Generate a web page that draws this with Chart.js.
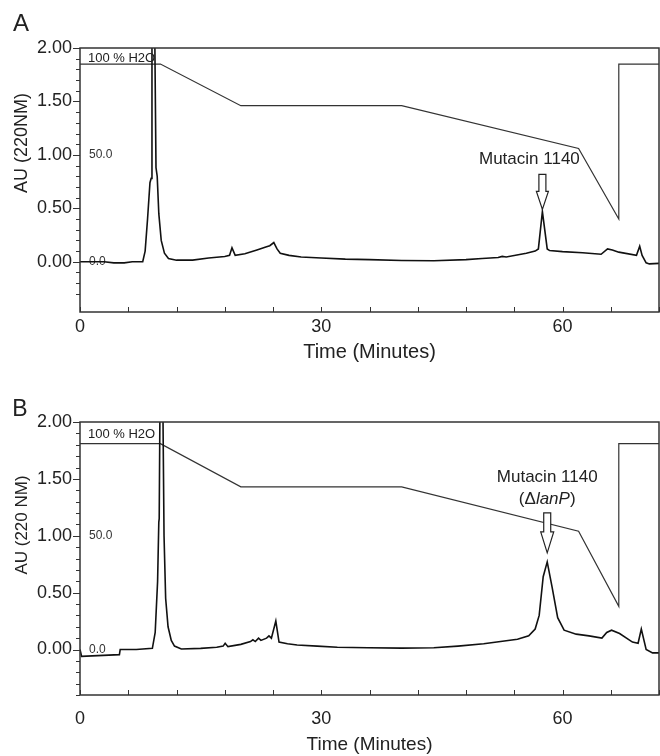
<!DOCTYPE html>
<html>
<head>
<meta charset="utf-8">
<script src="https://cdn.jsdelivr.net/npm/chart.js@4.4.1/dist/chart.umd.min.js"></script>
<style>
  html, body { margin: 0; padding: 0; background: #fff; }
  #wrapA { position: absolute; left: 0; top: 0; width: 660px; height: 370px; }
  #wrapB { position: absolute; left: 0; top: 370px; width: 660px; height: 386px; }
</style>
</head>
<body>
<div id="wrapA"><canvas id="chartA"></canvas></div>
<div id="wrapB"><canvas id="chartB"></canvas></div>
<script>
const FONT = '"Liberation Sans", Arial, sans-serif';

// panel A - absorbance trace (minutes, AU)
const timeA = [0, 3, 4.2, 5.5, 6.5, 7.8, 8.1, 8.4, 8.7, 8.85, 8.95, 9.3, 9.45, 9.6, 9.8, 10.1, 10.5, 11, 12, 14,
  16, 18, 18.6, 18.9, 19.3, 20.5, 22, 23.2, 23.6, 24.1, 24.5, 24.9, 26, 27.5, 30, 33, 36, 40, 44, 48,
  50, 52, 52.5, 53, 55.5, 56.6, 57.0, 57.5, 58.1, 58.4, 60, 62.5, 64.8, 65.6, 66.2, 67, 69.2, 69.6, 69.9, 70.4, 70.8, 72];
const auA = [0, 0, -0.01, -0.01, 0, 0, 0.1, 0.4, 0.74, 0.78, 2.1, 2.1, 0.88, 0.8, 0.45, 0.2, 0.08, 0.03, 0.015, 0.015,
  0.035, 0.05, 0.06, 0.13, 0.06, 0.075, 0.11, 0.14, 0.15, 0.18, 0.12, 0.08, 0.06, 0.045, 0.035, 0.025, 0.02, 0.012, 0.01, 0.02,
  0.03, 0.04, 0.05, 0.045, 0.08, 0.1, 0.12, 0.47, 0.12, 0.105, 0.095, 0.085, 0.07, 0.12, 0.11, 0.09, 0.06, 0.145, 0.06, -0.01, -0.02, -0.015];
// panel A - solvent gradient (% H2O)
const gradTimeA = [0, 10, 20, 40, 62, 67, 67, 72];
const gradA = [92.5, 92.5, 73, 73, 53, 20, 92.5, 92.5];

// panel B - absorbance trace (minutes, AU)
const timeB = [0, 0.2, 4.9, 5.0, 7, 9.0, 9.35, 9.65, 9.8, 9.85, 9.95, 10.3, 10.45, 10.65, 10.95, 11.35, 11.75, 12.6, 15, 17,
  17.8, 18.05, 18.4, 20, 21.2, 21.5, 21.8, 22.2, 22.5, 23.2, 23.5, 23.8, 24.35, 24.75, 25.8, 27, 29.5, 32, 35.8, 40,
  44, 47, 50.2, 52.3, 54.4, 55.8, 56.6, 57.1, 57.6, 58.1, 58.7, 59.4, 60.2, 61.7, 63.3, 64.9, 65.5, 66.1, 67.1, 68.7,
  69.4, 69.8, 70.4, 71.2, 72];
const auB = [0, -0.06, -0.045, 0, 0, 0.01, 0.15, 0.6, 1.12, 1.15, 2.2, 2.2, 1.0, 0.45, 0.2, 0.08, 0.03, 0.005, 0.01, 0.02,
  0.03, 0.055, 0.025, 0.045, 0.07, 0.085, 0.07, 0.1, 0.08, 0.1, 0.12, 0.1, 0.25, 0.065, 0.05, 0.04, 0.03, 0.02, 0.015, 0.012,
  0.015, 0.03, 0.05, 0.07, 0.09, 0.12, 0.18, 0.3, 0.64, 0.77, 0.55, 0.28, 0.17, 0.135, 0.12, 0.1, 0.15, 0.17, 0.14, 0.065,
  0.055, 0.18, 0, -0.03, -0.03];
// panel B - solvent gradient (% H2O)
const gradTimeB = [0, 10, 20, 40, 62, 67, 67, 72];
const gradB = [90.5, 90.5, 71.5, 71.5, 52, 19, 90.5, 90.5];

const xTickStep = 6;
const xLabelValues = [0, 30, 60];
const pctLabelValues = [0, 50];

const toPoints = (xs, ys) => xs.map((t, i) => ({ x: t, y: ys[i] }));
const isStep = (v, s) => Math.abs(v / s - Math.round(v / s)) < 1e-6;

// axis box and tick marks (y ticks outward, x ticks inward)
const framePlugin = {
  id: 'frame',
  afterDraw(chart) {
    const { ctx, chartArea: a, scales: { x, y } } = chart;
    ctx.save();
    ctx.strokeStyle = '#333';
    ctx.lineWidth = 1;
    y.ticks.forEach(t => {
      if (!isStep(t.value, 0.1)) return;
      const major = isStep(t.value, 0.5);
      const py = Math.round(y.getPixelForValue(t.value)) + 0.5;
      ctx.beginPath();
      ctx.moveTo(a.left - (major ? 7 : 4), py);
      ctx.lineTo(a.left, py);
      ctx.stroke();
    });
    x.ticks.forEach(t => {
      const px = Math.round(x.getPixelForValue(t.value)) + 0.5;
      ctx.beginPath();
      ctx.moveTo(px, a.bottom);
      ctx.lineTo(px, a.bottom - 5);
      ctx.stroke();
    });
    ctx.lineWidth = 1.5;
    ctx.strokeRect(a.left, a.top, a.right - a.left, a.bottom - a.top);
    ctx.restore();
  }
};

// panel letter, y title, gradient label, peak annotation
const textPlugin = {
  id: 'panelText',
  afterDraw(chart, args, o) {
    const { ctx, chartArea: a, scales: { x, y } } = chart;
    ctx.save();
    ctx.fillStyle = '#222';
    ctx.textBaseline = 'middle';

    ctx.font = `${o.letterSize}px ${FONT}`;
    ctx.textAlign = 'center';
    ctx.fillText(o.letter, o.letterX, o.letterY);

    ctx.save();
    ctx.translate(22, o.titleY);
    ctx.rotate(-Math.PI / 2);
    ctx.font = `${o.titleSize}px ${FONT}`;
    ctx.fillText(o.yTitle, 0, 0);
    ctx.restore();

    ctx.font = `13px ${FONT}`;
    ctx.textAlign = 'left';
    ctx.fillText('100 % H2O', a.left + 8, a.top + o.h2oDy);

    // hollow arrow pointing at the peak
    const an = o.arrow;
    const ax = x.getPixelForValue(an.t);
    const tip = y.getPixelForValue(an.tipAU);
    const top = tip - an.len, headTop = tip - an.head;
    ctx.beginPath();
    ctx.moveTo(ax - an.sw / 2, top);
    ctx.lineTo(ax + an.sw / 2, top);
    ctx.lineTo(ax + an.sw / 2, headTop);
    ctx.lineTo(ax + an.hw / 2, headTop);
    ctx.lineTo(ax, tip);
    ctx.lineTo(ax - an.hw / 2, headTop);
    ctx.lineTo(ax - an.sw / 2, headTop);
    ctx.closePath();
    ctx.fillStyle = '#fff';
    ctx.fill();
    ctx.strokeStyle = '#222';
    ctx.lineWidth = 1.2;
    ctx.stroke();

    ctx.fillStyle = '#222';
    an.lines.forEach(line => {
      const parts = line.parts;
      let w = 0;
      parts.forEach(p => {
        ctx.font = `${p.italic ? 'italic ' : ''}17px ${FONT}`;
        p.w = ctx.measureText(p.text).width;
        w += p.w;
      });
      let cx = ax + an.textDx - w / 2;
      parts.forEach(p => {
        ctx.font = `${p.italic ? 'italic ' : ''}17px ${FONT}`;
        ctx.fillText(p.text, cx, top - line.dy);
        cx += p.w;
      });
    });
    ctx.restore();
  }
};

function makePanel(id, p) {
  return new Chart(document.getElementById(id), {
    type: 'line',
    data: {
      datasets: [
        { data: toPoints(p.time, p.au), yAxisID: 'y', borderColor: '#111', borderWidth: 1.6 },
        { data: toPoints(p.gradTime, p.grad), yAxisID: 'y2', borderColor: '#333', borderWidth: 1.2 }
      ]
    },
    options: {
      responsive: true,
      maintainAspectRatio: false,
      animation: false,
      elements: { point: { radius: 0 }, line: { tension: 0 } },
      layout: { padding: { top: p.padTop, right: 1, left: 0, bottom: 0 } },
      plugins: {
        legend: { display: false },
        tooltip: { enabled: false },
        panelText: p.text
      },
      scales: {
        x: {
          type: 'linear', min: 0, max: 72,
          grid: { display: false, drawTicks: false },
          border: { display: false },
          ticks: {
            stepSize: xTickStep, autoSkip: false, maxRotation: 0,
            padding: p.xTickPad, color: '#222', font: { size: 18, family: FONT },
            callback: v => xLabelValues.includes(v) ? String(v) : ''
          },
          title: {
            display: true, text: 'Time (Minutes)', color: '#222',
            font: { size: p.xTitleSize, family: FONT },
            padding: { top: 0, bottom: p.xTitlePad }
          },
          afterFit: s => {
            s.height = p.xAxisH;
            s.paddingLeft = 0;
            s.paddingRight = 0;
          }
        },
        y: {
          min: p.yMin, max: 2, weight: 10,
          grid: { display: false, drawTicks: false },
          border: { display: false },
          ticks: {
            stepSize: 0.1, autoSkip: false, padding: 8, color: '#222',
            font: { size: 18, family: FONT },
            callback: v => (v >= -1e-9 && isStep(v, 0.5)) ? Math.abs(v).toFixed(2) : ''
          },
          afterFit: s => { s.width = 80; }
        },
        y2: {
          position: 'left', min: p.yMin * 50, max: 100, weight: 0,
          grid: { display: false, drawTicks: false },
          border: { display: false },
          afterBuildTicks: s => { s.ticks = pctLabelValues.map(v => ({ value: v })); },
          ticks: {
            mirror: true, padding: 9, color: '#333',
            font: { size: 12, family: FONT },
            callback: v => v.toFixed(1)
          },
          afterFit: s => { s.width = 0; }
        }
      }
    },
    plugins: [framePlugin, textPlugin]
  });
}

makePanel('chartA', {
  time: timeA, au: auA, gradTime: gradTimeA, grad: gradA,
  yMin: -0.47, padTop: 48, xAxisH: 58, xTickPad: 4, xTitleSize: 20, xTitlePad: 6,
  text: {
    letter: 'A', letterSize: 24, letterX: 21, letterY: 24,
    yTitle: 'AU (220NM)', titleSize: 18, titleY: 143, h2oDy: 10,
    arrow: {
      t: 57.5, tipAU: 0.49, len: 35, head: 18, sw: 7, hw: 12, textDx: -13,
      lines: [{ dy: 15, parts: [{ text: 'Mutacin 1140' }] }]
    }
  }
});

makePanel('chartB', {
  time: timeB, au: auB, gradTime: gradTimeB, grad: gradB,
  yMin: -0.4, padTop: 52, xAxisH: 61, xTickPad: 13, xTitleSize: 19, xTitlePad: 0,
  text: {
    letter: 'B', letterSize: 23, letterX: 20, letterY: 40,
    yTitle: 'AU (220 NM)', titleSize: 17, titleY: 155, h2oDy: 12,
    arrow: {
      t: 58.1, tipAU: 0.85, len: 40, head: 21, sw: 7, hw: 13, textDx: 0,
      lines: [
        { dy: 36, parts: [{ text: 'Mutacin 1140' }] },
        { dy: 14, parts: [{ text: '(\u0394' }, { text: 'lanP', italic: true }, { text: ')' }] }
      ]
    }
  }
});
</script>
</body>
</html>
